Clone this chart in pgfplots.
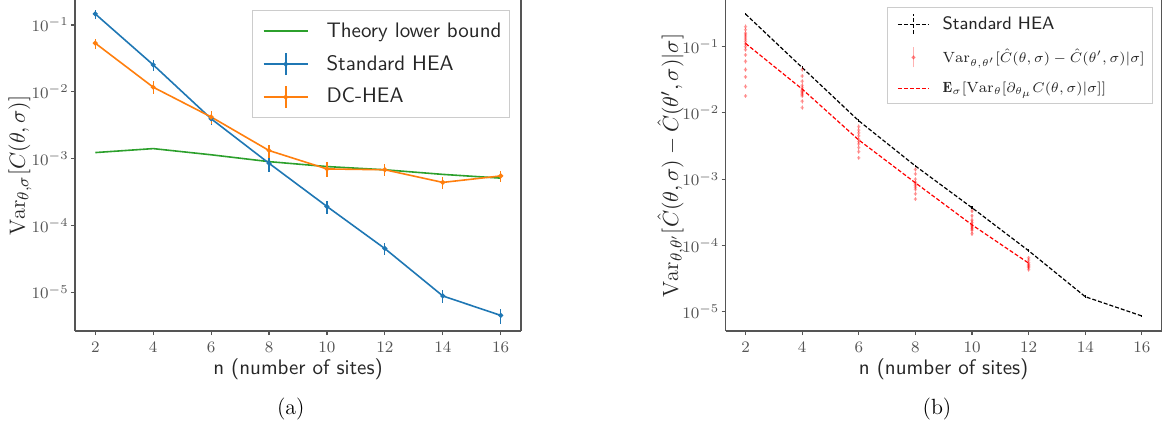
\documentclass[border=0pt]{standalone}
\usepackage{fontspec}
\usepackage{amsmath}
\usepackage{pgfplots}
\pgfplotsset{compat=1.18}
\definecolor{mplblue}{HTML}{1F77B4}
\definecolor{mplorange}{HTML}{FF7F0E}
\definecolor{mplgreen}{HTML}{2CA02C}
\definecolor{spine}{HTML}{555555}

\pgfplotsset{
  panel/.style={
    scale only axis,
    xmin=1.3, xmax=16.7,
    xtick={2,4,...,16},
    ytick={1e-5,1e-4,1e-3,1e-2,1e-1},
    yminorticks=false,
    axis x line*=bottom, axis y line*=box,
    tick pos=left, tick align=outside,
    major tick length=2pt,
    axis line style={spine, line width=0.6pt},
    every tick/.style={spine, line width=0.6pt},
    tick label style={font=\fontsize{8}{9.5}\selectfont, text=spine},
    yticklabel style={inner xsep=1pt},
    xlabel style={at={(axis description cs:0.5,0)}, anchor=center, yshift=-19pt,
      font=\sffamily\fontsize{10.5}{12}\selectfont, text=black!85},
    ylabel style={font=\fontsize{11}{13}\selectfont, text=black!85},
    legend cell align=left,
  },
  errs/.style={error bars/y dir=both, error bars/y explicit relative,
    error bars/error mark=none,
    error bars/error bar style={line width=0.6pt}},
}

\begin{document}
\begin{tikzpicture}
\path[use as bounding box] (0,0) rectangle (587.5pt,214.5pt);

% (a)
\begin{axis}[panel, ymode=log, at={(37.5pt,49pt)}, anchor=south west,
  width=223pt, height=165.5pt,
  ymin=2.63e-6, ymax=0.236,
  xlabel={n (number of sites)},
  ylabel={$\mathrm{Var}_{\theta,\sigma}[C(\theta,\sigma)]$},
  ylabel style={at={(axis description cs:0,0.5)}, anchor=center, yshift=27.5pt},
  legend style={at={(1,1)}, anchor=north east, xshift=-5.5pt, yshift=-5pt,
    draw=black!20, line width=0.5pt,
    font=\sffamily\fontsize{10.5}{12}\selectfont, text=black!85,
    row sep=3.5pt, inner xsep=2pt, inner ysep=4pt},
]
\addplot[mplgreen, line width=0.8pt,
  legend image code/.code={\path (-3pt,0pt) (29pt,0pt);
    \draw[color=mplgreen, line width=0.8pt] (0pt,0pt) -- (22pt,0pt);}]
  coordinates {(2,1.23e-3) (4,1.41e-3) (6,1.14e-3) (8,9.0e-4) (10,7.6e-4)
               (12,6.8e-4) (14,5.8e-4) (16,5.1e-4)};
\addlegendentry{Theory lower bound}
\addplot[mplblue, line width=0.8pt, mark=*, mark size=0.8pt, errs,
  legend image code/.code={\path (-3pt,0pt) (29pt,0pt);
    \draw[color=mplblue, line width=0.8pt] (0pt,0pt) -- (22pt,0pt);
    \draw[color=mplblue, line width=0.8pt] (11pt,-5.5pt) -- (11pt,5.5pt);
    \fill[color=mplblue] (11pt,0pt) circle (0.8pt);}]
  coordinates {(2,0.146) +- (0,0.15) (4,0.0253) +- (0,0.2) (6,0.00395) +- (0,0.2)
               (8,8.5e-4) +- (0,0.25) (10,1.92e-4) +- (0,0.22) (12,4.5e-5) +- (0,0.2)
               (14,8.8e-6) +- (0,0.22) (16,4.5e-6) +- (0,0.25)};
\addlegendentry{Standard HEA}
\addplot[mplorange, line width=0.8pt, mark=*, mark size=0.8pt, errs,
  legend image code/.code={\path (-3pt,0pt) (29pt,0pt);
    \draw[color=mplorange, line width=0.8pt] (0pt,0pt) -- (22pt,0pt);
    \draw[color=mplorange, line width=0.8pt] (11pt,-5.5pt) -- (11pt,5.5pt);
    \fill[color=mplorange] (11pt,0pt) circle (0.8pt);}]
  coordinates {(2,0.0533) +- (0,0.17) (4,0.0117) +- (0,0.22) (6,0.0042) +- (0,0.22)
               (8,1.32e-3) +- (0,0.22) (10,7.0e-4) +- (0,0.25) (12,6.8e-4) +- (0,0.2)
               (14,4.4e-4) +- (0,0.2) (16,5.5e-4) +- (0,0.2)};
\addlegendentry{DC-HEA}
\end{axis}

% (b)
\begin{axis}[panel, ymode=log, at={(362.85pt,49pt)}, anchor=south west,
  width=218pt, height=165.5pt,
  ymin=5.1e-6, ymax=0.506,
  xlabel={n (number of sites)},
  ylabel={$\mathrm{Var}_{\theta,\theta'}[\hat{C}(\theta,\sigma)-\hat{C}(\theta',\sigma)|\sigma]$},
  ylabel style={at={(axis description cs:0,0.5)}, anchor=center, yshift=27.3pt},
  legend style={at={(1,1)}, anchor=north east, xshift=-4.3pt, yshift=-3.5pt,
    draw=black!20, line width=0.5pt,
    font=\fontsize{7.4}{9}\selectfont, text=black!85,
    nodes={inner ysep=1pt},
    row sep=6pt, inner xsep=2pt, inner ysep=3pt},
]
\addplot[black, line width=0.6pt, dash pattern=on 2pt off 1pt, mark=none, errs,
  legend image code/.code={\path (-3pt,0pt) (20pt,0pt);
    \draw[color=black, line width=0.6pt, dash pattern=on 2pt off 1pt] (0pt,0pt) -- (15.5pt,0pt);
    \draw[color=black, line width=0.6pt] (7.75pt,-5pt) -- (7.75pt,5pt);}]
  coordinates {(2,0.311) +- (0,0.05) (4,0.0483) +- (0,0.05) (6,0.0076) +- (0,0.05)
               (8,1.58e-3) +- (0,0.05) (10,3.7e-4) +- (0,0.05) (12,8.3e-5) +- (0,0.05)
               (14,1.68e-5) +- (0,0.05) (16,8.6e-6) +- (0,0.05)};
\addlegendentry{\sffamily\fontsize{9}{10}\selectfont Standard HEA}
\addplot[only marks, red, opacity=0.22, mark=*, mark size=0.7pt, errs,
  legend image code/.code={\path (-3pt,0pt) (20pt,0pt);
    \begin{scope}[opacity=0.3]
    \draw[color=red, line width=0.7pt] (7.75pt,-5pt) -- (7.75pt,5pt);
    \fill[color=red] (7.75pt,0pt) circle (0.8pt);
    \end{scope}}]
  coordinates {
    (2,0.20) +- (0,0.08) (2,0.18) +- (0,0.08) (2,0.16) +- (0,0.08) (2,0.15) +- (0,0.08)
    (2,0.14) +- (0,0.08) (2,0.13) +- (0,0.08) (2,0.12) +- (0,0.08) (2,0.11) +- (0,0.08)
    (2,0.10) +- (0,0.08) (2,0.09) +- (0,0.08) (2,0.075) +- (0,0.08) (2,0.06) +- (0,0.08)
    (2,0.045) +- (0,0.08) (2,0.035) +- (0,0.08) (2,0.025) +- (0,0.08) (2,0.018) +- (0,0.08)
    (4,0.045) +- (0,0.08) (4,0.036) +- (0,0.08) (4,0.030) +- (0,0.08) (4,0.026) +- (0,0.08)
    (4,0.024) +- (0,0.08) (4,0.022) +- (0,0.08) (4,0.021) +- (0,0.08) (4,0.020) +- (0,0.08)
    (4,0.019) +- (0,0.08) (4,0.018) +- (0,0.08) (4,0.015) +- (0,0.08) (4,0.012) +- (0,0.08)
    (6,0.0062) +- (0,0.08) (6,0.0055) +- (0,0.08) (6,0.0050) +- (0,0.08) (6,0.0045) +- (0,0.08)
    (6,0.0040) +- (0,0.08) (6,0.0037) +- (0,0.08) (6,0.0034) +- (0,0.08) (6,0.0030) +- (0,0.08)
    (6,0.0026) +- (0,0.08) (6,0.0021) +- (0,0.08)
    (8,1.4e-3) +- (0,0.08) (8,1.2e-3) +- (0,0.08) (8,1.0e-3) +- (0,0.08) (8,9.0e-4) +- (0,0.08)
    (8,8.5e-4) +- (0,0.08) (8,8.0e-4) +- (0,0.08) (8,7.5e-4) +- (0,0.08) (8,7.0e-4) +- (0,0.08)
    (8,6.0e-4) +- (0,0.08) (8,5.0e-4) +- (0,0.08)
    (10,3.3e-4) +- (0,0.08) (10,2.8e-4) +- (0,0.08) (10,2.4e-4) +- (0,0.08) (10,2.2e-4) +- (0,0.08)
    (10,2.0e-4) +- (0,0.08) (10,1.9e-4) +- (0,0.08) (10,1.8e-4) +- (0,0.08) (10,1.7e-4) +- (0,0.08)
    (10,1.5e-4) +- (0,0.08)
    (12,6.5e-5) +- (0,0.08) (12,6.0e-5) +- (0,0.08) (12,5.5e-5) +- (0,0.08) (12,5.2e-5) +- (0,0.08)
    (12,5.0e-5) +- (0,0.08) (12,4.8e-5) +- (0,0.08) (12,4.6e-5) +- (0,0.08) (12,4.3e-5) +- (0,0.08)
  };
\addlegendentry{$\mathrm{Var}_{\theta,\theta'}[\hat{C}(\theta,\sigma)-\hat{C}(\theta',\sigma)|\sigma]$}
\addplot[red, line width=0.6pt, dash pattern=on 2pt off 1pt,
  legend image code/.code={\path (-3pt,0pt) (20pt,0pt);
    \draw[color=red, opacity=1, line width=0.6pt, dash pattern=on 2pt off 1pt] (0pt,0pt) -- (15.5pt,0pt);}]
  coordinates {(2,0.112) (4,0.0229) (6,0.0039) (8,8.8e-4) (10,2.04e-4) (12,5.4e-5)};
\addlegendentry{$\mathbf{E}_{\sigma}[\mathrm{Var}_{\theta}[\partial_{\theta_{\mu}}C(\theta,\sigma)|\sigma]]$}
\end{axis}

\node[font=\fontsize{11}{13}\selectfont] at (145.4pt,10pt) {(a)};
\node[font=\fontsize{11}{13}\selectfont] at (468.5pt,10pt) {(b)};
\end{tikzpicture}
\end{document}
